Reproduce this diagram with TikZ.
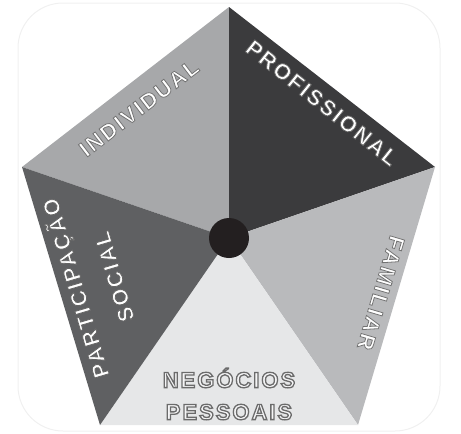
\documentclass[tikz,border=0pt]{standalone}
\usepackage{fontspec}
\setmainfont{Liberation Sans}

% sector shades
\definecolor{indivgray}{HTML}{A7A8AA}
\definecolor{profgray}{HTML}{3B3B3D}
\definecolor{famgray}{HTML}{B9BABC}
\definecolor{neggray}{HTML}{E6E7E8}
\definecolor{partgray}{HTML}{5F6062}
\definecolor{hubblack}{HTML}{231F20}

% outlined letters: fill plus stroke (grey level #1, width #2)
\newcommand\outl[3]{\special{pdf:literal direct 2 Tr #2 w #1 G}#3\special{pdf:literal direct 0 Tr}}

\tikzset{
  lbl/.style={font=\fontsize{22}{25}\selectfont\bfseries\addfontfeatures{LetterSpace=9},
    text=white, inner sep=0pt, align=center},
}

\begin{document}
\begin{tikzpicture}[x=1pt,y=-1pt]
    \useasboundingbox (0,0) rectangle (461,434);
    % faint rounded frame behind the pentagon
    \draw[black!6, line width=1pt, rounded corners=45pt] (18,3) rectangle (440,431);
    % pentagon corners
    \coordinate (T) at (229,7);
    \coordinate (R) at (435,167);
    \coordinate (BR) at (358,425);
    \coordinate (BL) at (100,425);
    \coordinate (L) at (22,167);
    % hub
    \coordinate (H) at (229,238);
    % sectors
    \fill[indivgray] (L) -- (T) -- (H) -- cycle;
    \fill[profgray] (T) -- (R) -- (H) -- cycle;
    \fill[famgray] (R) -- (BR) -- (H) -- cycle;
    \fill[neggray] (BR) -- (BL) -- (H) -- cycle;
    \fill[partgray] (BL) -- (L) -- (H) -- cycle;
    \node[circle, fill=hubblack, minimum size=40pt, inner sep=0pt] (hub) at (H) {};
    % labels
    \node[lbl, rotate=37.5] (indiv) at (139,108) {\outl{0.45}{0.8}{INDIVIDUAL}};
    \node[lbl, rotate=-38.5] (prof) at (322,103) {\outl{0.4}{0.8}{PROFISSIONAL}};
    \node[lbl, rotate=-106.5] (fam) at (381,293) {\outl{0.45}{0.8}{FAMILIAR}};
    \node[lbl, rotate=106.5, font=\fontsize{22}{40}\selectfont\bfseries\addfontfeatures{LetterSpace=9}]
        (part) at (93,283) {\outl{0.4}{0.8}{PARTICIPAÇÃO}\\\outl{0.4}{0.8}{SOCIAL}};
    \node[lbl, text=neggray!40, font=\fontsize{22}{32}\selectfont\bfseries\addfontfeatures{LetterSpace=9}]
        (neg) at (229,394) {\outl{0.42}{1.3}{NEGÓCIOS}\\\outl{0.42}{1.3}{PESSOAIS}};
\end{tikzpicture}
\end{document}
